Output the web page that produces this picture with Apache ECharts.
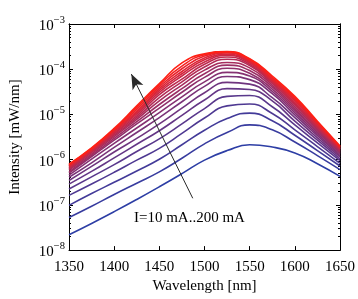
<!DOCTYPE html>
<html>
<head>
<meta charset="utf-8">
<script src="https://cdn.jsdelivr.net/npm/echarts@6/dist/echarts.min.js"></script>
<style>
html, body { margin: 0; padding: 0; background: #fff; }
#spectra { width: 358px; height: 299px; }
</style>
</head>
<body>
<div id="spectra"></div>
<script>
// wavelength samples [nm]
var wavelength = [1350, 1375, 1400, 1425, 1450, 1475, 1500, 1525, 1550, 1575, 1600, 1625, 1650];
// drive current of each curve [mA]
var current = [10, 20, 30, 40, 50, 60, 70, 80, 90, 100, 110, 120, 130, 140, 150, 160, 170, 180, 190, 200];

// log10 of intensity [mW/nm], one array per current
var i10  = [-7.66, -7.41, -7.15, -6.88, -6.60, -6.31, -6.01, -5.80, -5.67, -5.72, -5.85, -6.09, -6.37];
var i20  = [-7.28, -7.03, -6.77, -6.52, -6.27, -5.97, -5.65, -5.40, -5.23, -5.34, -5.61, -5.91, -6.22];
var i30  = [-7.01, -6.75, -6.50, -6.25, -5.99, -5.67, -5.35, -5.09, -4.97, -5.14, -5.46, -5.80, -6.14];
var i40  = [-6.79, -6.54, -6.28, -6.01, -5.75, -5.42, -5.08, -4.81, -4.77, -4.98, -5.34, -5.71, -6.08];
var i50  = [-6.65, -6.38, -6.11, -5.82, -5.54, -5.21, -4.87, -4.60, -4.58, -4.83, -5.23, -5.63, -6.02];
var i60  = [-6.54, -6.26, -5.96, -5.66, -5.36, -5.02, -4.68, -4.43, -4.45, -4.70, -5.15, -5.57, -5.98];
var i70  = [-6.46, -6.15, -5.83, -5.53, -5.21, -4.86, -4.52, -4.29, -4.33, -4.63, -5.07, -5.52, -5.94];
var i80  = [-6.39, -6.07, -5.73, -5.40, -5.07, -4.72, -4.38, -4.16, -4.23, -4.54, -5.01, -5.47, -5.91];
var i90  = [-6.34, -5.99, -5.64, -5.30, -4.96, -4.61, -4.28, -4.07, -4.15, -4.49, -4.96, -5.43, -5.88];
var i100 = [-6.30, -5.93, -5.57, -5.21, -4.86, -4.51, -4.18, -3.98, -4.09, -4.44, -4.91, -5.39, -5.85];
var i110 = [-6.27, -5.90, -5.53, -5.16, -4.78, -4.43, -4.10, -3.91, -4.03, -4.39, -4.87, -5.36, -5.83];
var i120 = [-6.23, -5.87, -5.49, -5.11, -4.70, -4.35, -4.02, -3.85, -3.97, -4.35, -4.83, -5.33, -5.81];
var i130 = [-6.21, -5.84, -5.46, -5.07, -4.63, -4.28, -3.95, -3.78, -3.92, -4.31, -4.79, -5.30, -5.79];
var i140 = [-6.19, -5.82, -5.43, -5.03, -4.56, -4.22, -3.89, -3.73, -3.89, -4.30, -4.77, -5.28, -5.77];
var i150 = [-6.17, -5.81, -5.41, -4.99, -4.51, -4.15, -3.84, -3.69, -3.86, -4.27, -4.74, -5.26, -5.76];
var i160 = [-6.15, -5.79, -5.38, -4.96, -4.47, -4.10, -3.79, -3.67, -3.84, -4.25, -4.70, -5.23, -5.75];
var i170 = [-6.14, -5.78, -5.36, -4.93, -4.43, -4.05, -3.75, -3.64, -3.82, -4.23, -4.68, -5.21, -5.73];
var i180 = [-6.12, -5.76, -5.34, -4.89, -4.39, -3.99, -3.71, -3.63, -3.80, -4.21, -4.65, -5.19, -5.72];
var i190 = [-6.11, -5.75, -5.33, -4.85, -4.35, -3.93, -3.68, -3.62, -3.78, -4.18, -4.63, -5.17, -5.71];
var i200 = [-6.10, -5.74, -5.31, -4.81, -4.32, -3.86, -3.66, -3.61, -3.77, -4.15, -4.60, -5.15, -5.70];

var curves = [i10, i20, i30, i40, i50, i60, i70, i80, i90, i100,
              i110, i120, i130, i140, i150, i160, i170, i180, i190, i200];

var serif = '"Liberation Serif", "Times New Roman", serif';

// minor log ticks 2..9 x 10^n
var minorTicks = [];
for (var e = -8; e < -3; e++) {
	for (var k = 2; k <= 9; k++) {
		minorTicks.push(k * Math.pow(10, e));
	}
}

// blue -> purple -> red
function curveColor(idx) {
	var t = idx / (curves.length - 1);
	var r = Math.round(45 + 210 * t);
	var g = Math.round(62 - 30 * t);
	var b = Math.round(20 + 145 * Math.pow(1 - t, 0.8));
	return 'rgb(' + r + ',' + g + ',' + b + ')';
}

var dom = document.getElementById("spectra");
var myChart = echarts.init(dom, null, {renderer: 'canvas'});
var option = null;

var series = [];
curves.forEach(function(c, idx) {
	var pts = [];
	for (var j = 0; j < wavelength.length; j++) {
		pts.push([wavelength[j], Math.pow(10, c[j])]);
	}
	series.push({
		name: current[idx] + ' mA',
		type: 'line',
		data: pts,
		showSymbol: false,
		smooth: 0.5,
		silent: true,
		z: 2,
		lineStyle: {
			width: 1.6,
			color: curveColor(idx)
		}
	});
});

// arrow "I=10 mA..200 mA"
series.push({
	type: 'line',
	data: [],
	silent: true,
	markLine: {
		silent: true,
		animation: false,
		symbol: ['none', 'arrow'],
		symbolSize: [9, 15],
		label: { show: false },
		lineStyle: { color: '#2a2a2a', width: 1, type: 'solid' },
		data: [[
			{ coord: [1487, 1.4e-7] },
			{ coord: [1419, 7.8e-5] }
		]]
	}
});

var axisLineStyle = { show: true, lineStyle: { color: '#000', width: 1 } };

function yAxisBase(pos) {
	return {
		type: 'log',
		logBase: 10,
		min: 1e-8,
		max: 1e-3,
		position: pos,
		axisLine: axisLineStyle,
		splitLine: { show: false }
	};
}

var yMainL = yAxisBase('left');
yMainL.axisTick = { inside: true, length: 4, lineStyle: { color: '#000' } };
yMainL.axisLabel = {
	margin: 4,
	formatter: function(v) {
		return '{b|10}{s|\u2212' + Math.round(-Math.log10(v)) + '}';
	},
	rich: {
		b: { fontSize: 15, fontFamily: serif, color: '#000', verticalAlign: 'bottom' },
		s: { fontSize: 10.5, fontFamily: serif, color: '#000', verticalAlign: 'bottom', padding: [0, 0, 8, 0] }
	}
};
yMainL.name = 'Intensity [mW/nm]';
yMainL.nameLocation = 'middle';
yMainL.nameGap = 46;
yMainL.nameTextStyle = { fontSize: 15, fontFamily: serif, color: '#000' };

var yMinorL = yAxisBase('left');
yMinorL.axisLabel = { show: false };
yMinorL.axisTick = { inside: true, length: 2, customValues: minorTicks, lineStyle: { color: '#000' } };

var yMainR = yAxisBase('right');
yMainR.axisLabel = { show: false };
yMainR.axisTick = { inside: true, length: 4, lineStyle: { color: '#000' } };

var yMinorR = yAxisBase('right');
yMinorR.axisLabel = { show: false };
yMinorR.axisTick = { inside: true, length: 2, customValues: minorTicks, lineStyle: { color: '#000' } };

option = {
	backgroundColor: '#fff',
	animation: false,
	grid: {
		left: 54,
		right: 11,
		top: 24,
		bottom: 39
	},
	xAxis: [{
		type: 'value',
		min: 1350,
		max: 1650,
		interval: 50,
		position: 'bottom',
		name: 'Wavelength [nm]',
		nameLocation: 'middle',
		nameGap: 27,
		nameTextStyle: { fontSize: 15, fontFamily: serif, color: '#000' },
		axisLine: axisLineStyle,
		axisTick: { inside: true, length: 4, lineStyle: { color: '#000' } },
		axisLabel: {
			margin: 9,
			fontSize: 15,
			fontFamily: serif,
			color: '#000',
			formatter: function(v) { return String(v); }
		},
		splitLine: { show: false }
	}, {
		type: 'value',
		min: 1350,
		max: 1650,
		interval: 50,
		position: 'top',
		axisLine: axisLineStyle,
		axisTick: { inside: true, length: 4, lineStyle: { color: '#000' } },
		axisLabel: { show: false },
		splitLine: { show: false }
	}],
	yAxis: [yMainL, yMinorL, yMainR, yMinorR],
	graphic: [{
		type: 'text',
		left: 134,
		top: 211,
		style: {
			text: 'I=10 mA..200 mA',
			font: '15px ' + serif,
			fill: '#000'
		}
	}],
	series: series
};

if (option && typeof option === "object") {
	myChart.setOption(option, true);
}
</script>
</body>
</html>
